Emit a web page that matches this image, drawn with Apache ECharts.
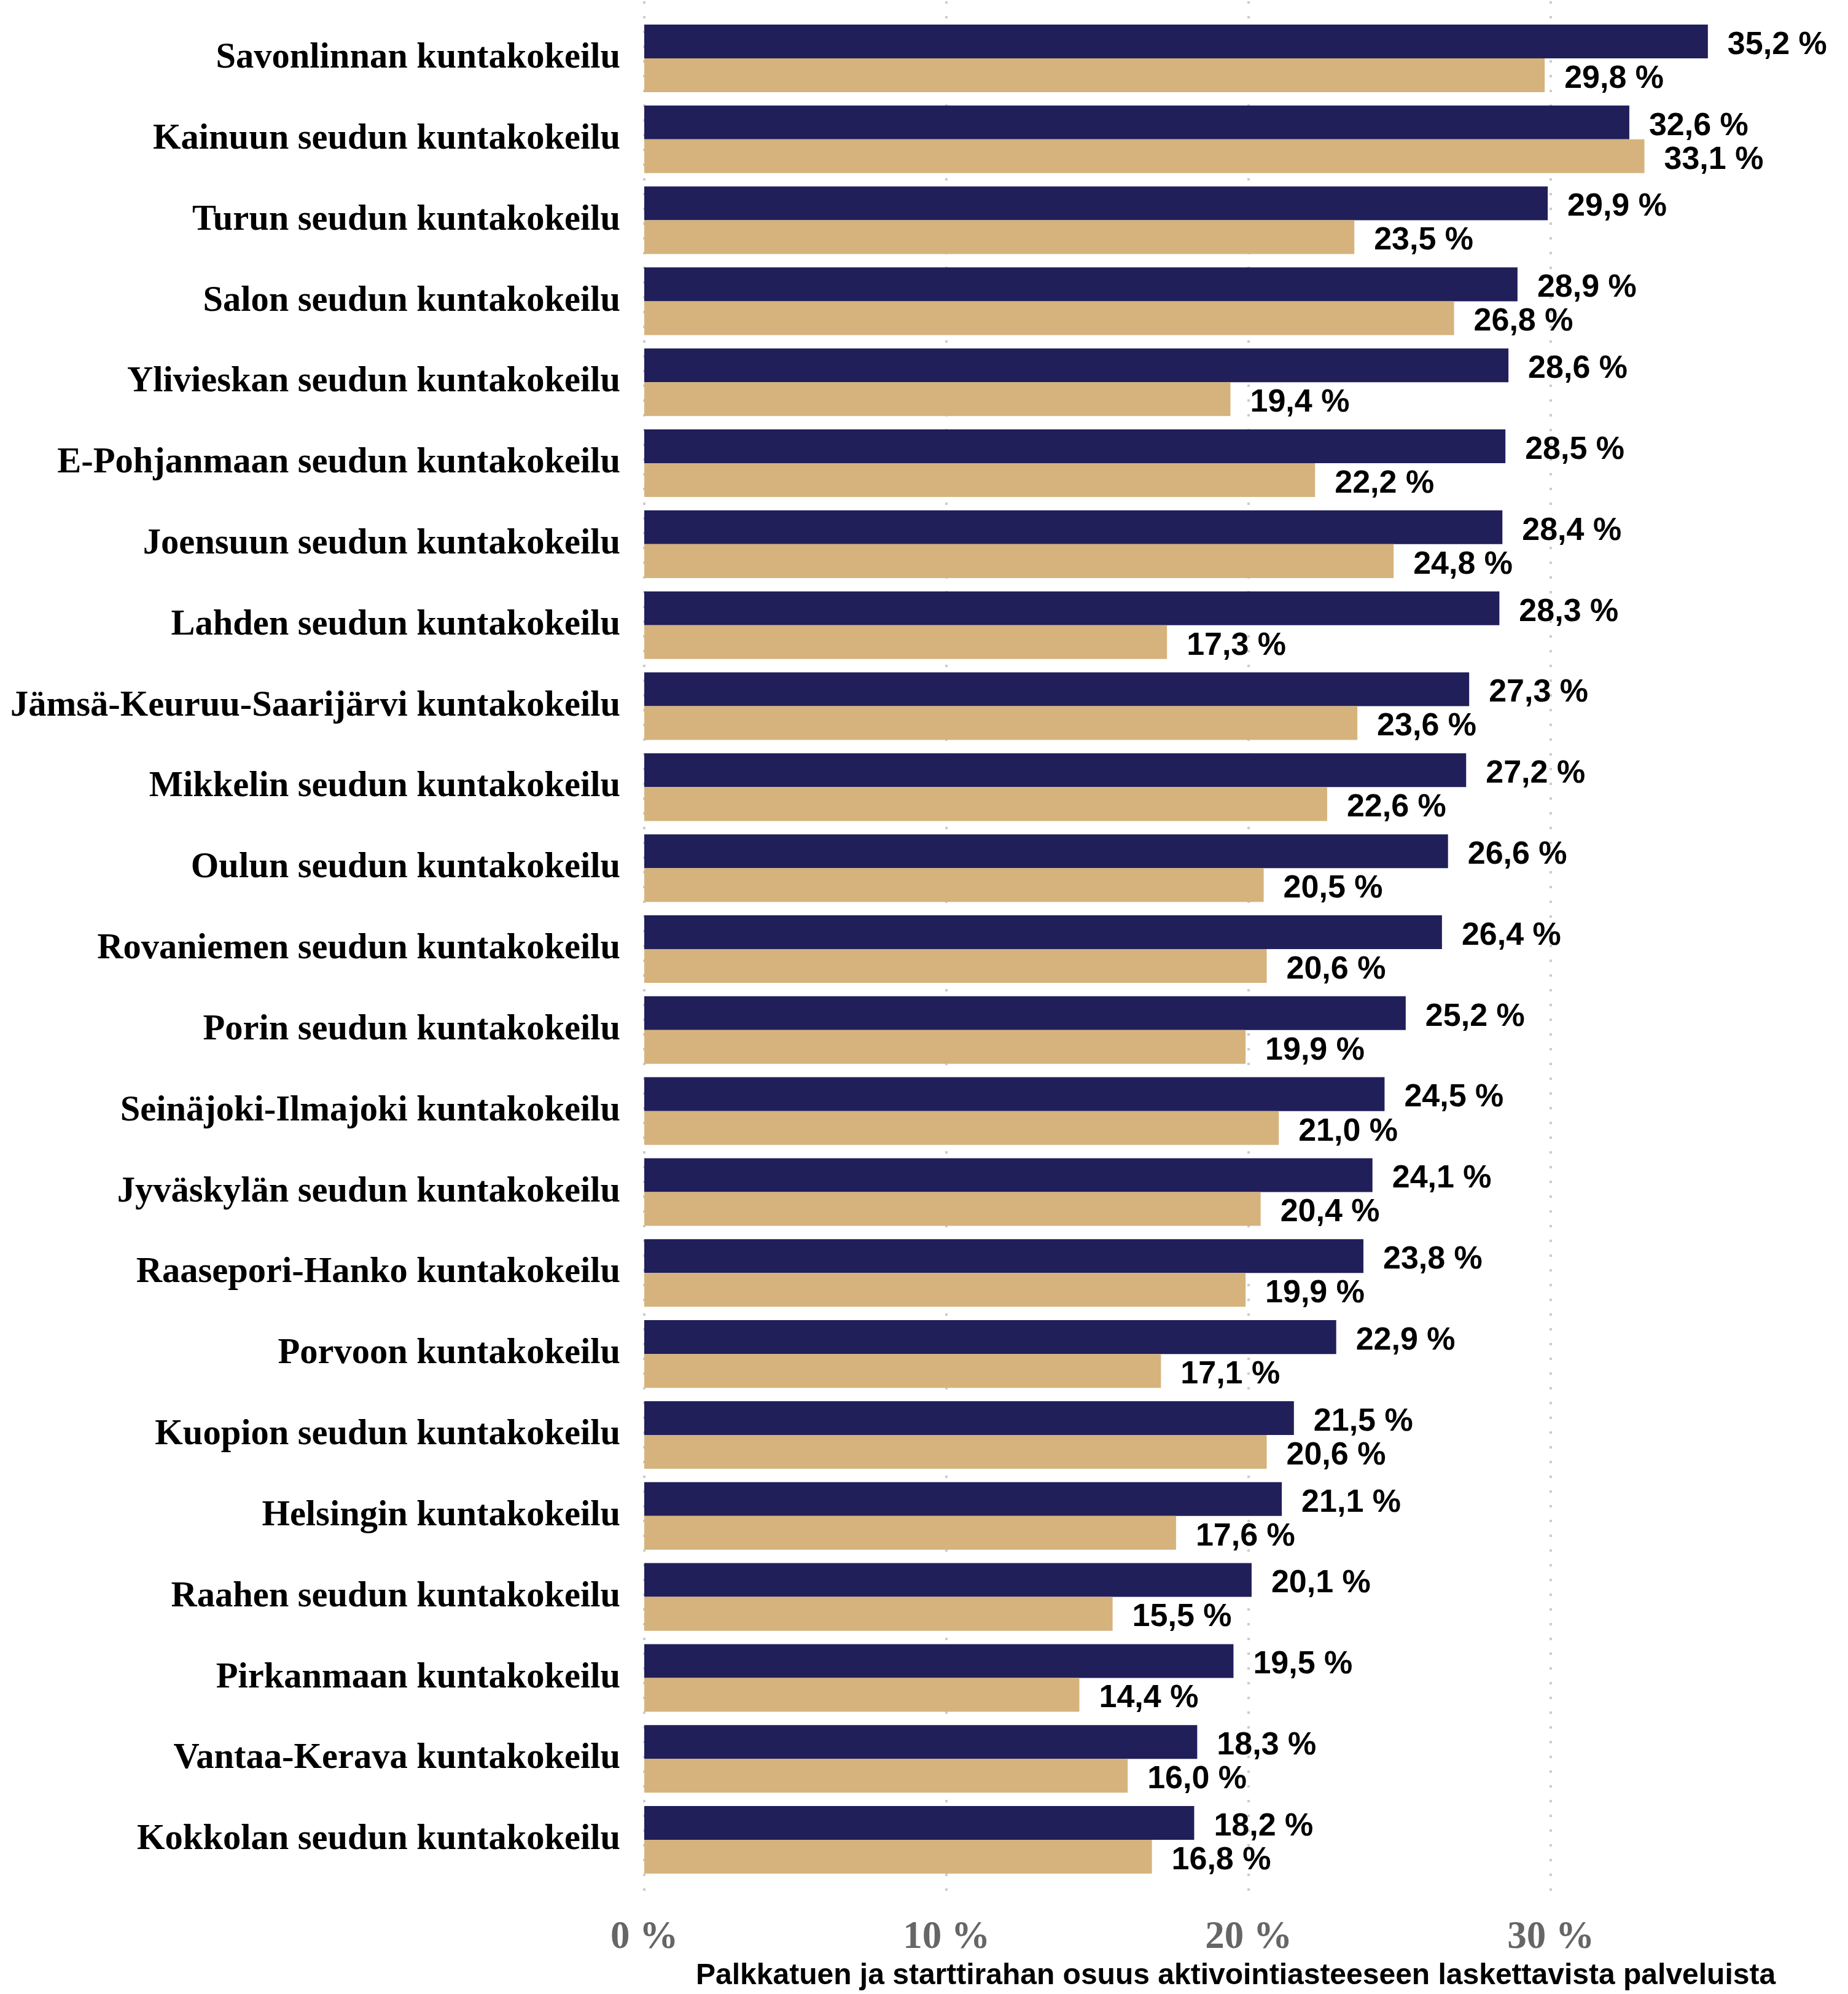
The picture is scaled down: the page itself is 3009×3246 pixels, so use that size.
<!DOCTYPE html>
<html>
<head>
<meta charset="utf-8">
<script src="https://cdn.jsdelivr.net/npm/echarts@6/dist/echarts.min.js"></script>
<style>
  html, body { margin: 0; padding: 0; background: #fff; }
  #myChart { width: 3009px; height: 3246px; }
</style>
</head>
<body>
<div id="myChart"></div>
<script>
const categories = [
  'Savonlinnan kuntakokeilu',
  'Kainuun seudun kuntakokeilu',
  'Turun seudun kuntakokeilu',
  'Salon seudun kuntakokeilu',
  'Ylivieskan seudun kuntakokeilu',
  'E-Pohjanmaan seudun kuntakokeilu',
  'Joensuun seudun kuntakokeilu',
  'Lahden seudun kuntakokeilu',
  'Jämsä-Keuruu-Saarijärvi kuntakokeilu',
  'Mikkelin seudun kuntakokeilu',
  'Oulun seudun kuntakokeilu',
  'Rovaniemen seudun kuntakokeilu',
  'Porin seudun kuntakokeilu',
  'Seinäjoki-Ilmajoki kuntakokeilu',
  'Jyväskylän seudun kuntakokeilu',
  'Raasepori-Hanko kuntakokeilu',
  'Porvoon kuntakokeilu',
  'Kuopion seudun kuntakokeilu',
  'Helsingin kuntakokeilu',
  'Raahen seudun kuntakokeilu',
  'Pirkanmaan kuntakokeilu',
  'Vantaa-Kerava kuntakokeilu',
  'Kokkolan seudun kuntakokeilu'
]

// dark (upper) bar in each group
const darkValues = [35.2, 32.6, 29.9, 28.9, 28.6, 28.5, 28.4, 28.3, 27.3, 27.2, 26.6, 26.4,
  25.2, 24.5, 24.1, 23.8, 22.9, 21.5, 21.1, 20.1, 19.5, 18.3, 18.2]
// tan (lower) bar in each group
const tanValues = [29.8, 33.1, 23.5, 26.8, 19.4, 22.2, 24.8, 17.3, 23.6, 22.6, 20.5, 20.6,
  19.9, 21.0, 20.4, 19.9, 17.1, 20.6, 17.6, 15.5, 14.4, 16.0, 16.8]

const xTicks = [0, 10, 20, 30]
const xTitle = 'Palkkatuen ja starttirahan osuus aktivointiasteeseen laskettavista palveluista'

const DARK = '#201f5a'
const TAN = '#d6b37c'
const X_MAX = 39.15

const serif = '"Liberation Serif", "Times New Roman", serif'
const sans = '"Liberation Sans", Arial, sans-serif'

function fmtPct(v) {
  return v.toFixed(1).replace('.', ',') + ' %'
}

const chart = echarts.init(document.getElementById('myChart'), null, { renderer: 'canvas' })

const valueLabel = {
  show: true,
  position: 'right',
  distance: 32,
  offset: [0, 6],
  color: '#000',
  fontFamily: sans,
  fontWeight: 'bold',
  fontSize: 52,
  formatter: (p) => fmtPct(p.value)
}

const option = {
  animation: false,
  backgroundColor: '#fff',
  grid: [
    { left: 1049, right: 3009 - 1049 - X_MAX * 49.2, top: 29, bottom: 185 },
    { left: 1049, right: 3009 - 1049 - X_MAX * 49.2, top: 2, bottom: 146 }
  ],
  xAxis: [
    {
      gridIndex: 0,
      type: 'value',
      min: 0,
      max: X_MAX,
      show: false
    },
    {
      gridIndex: 1,
      type: 'value',
      min: 0,
      max: X_MAX,
      interval: 10,
      axisLine: { show: false },
      axisTick: { show: false },
      splitLine: {
        show: true,
        showMaxLine: false,
        lineStyle: { color: '#cccccc', width: 4, type: [4, 20] }
      },
      axisLabel: {
        margin: 34,
        color: '#666666',
        fontFamily: serif,
        fontWeight: 'bold',
        fontSize: 63,
        showMaxLabel: false,
        formatter: (v) => (xTicks.indexOf(v) >= 0 ? v + ' %' : '')
      },
      name: xTitle,
      nameLocation: 'middle',
      nameGap: 104,
      nameTextStyle: {
        color: '#000',
        fontFamily: sans,
        fontWeight: 'bold',
        fontSize: 48
      }
    }
  ],
  yAxis: [
    {
      gridIndex: 0,
      type: 'category',
      data: categories,
      inverse: true,
      axisLine: { show: false },
      axisTick: { show: false },
      splitLine: { show: false },
      axisLabel: {
        margin: 39,
        color: '#000',
        fontFamily: serif,
        fontWeight: 'bold',
        fontSize: 58.5,
        padding: [10, 0, 0, 0]
      }
    },
    {
      gridIndex: 1,
      type: 'value',
      min: 0,
      max: 1,
      show: false
    }
  ],
  series: [
    {
      name: 'dark',
      type: 'bar',
      xAxisIndex: 0,
      yAxisIndex: 0,
      data: darkValues,
      barGap: '0%',
      barCategoryGap: '16.5%',
      itemStyle: { color: DARK },
      label: valueLabel,
      z: 3
    },
    {
      name: 'tan',
      type: 'bar',
      xAxisIndex: 0,
      yAxisIndex: 0,
      data: tanValues,
      barGap: '0%',
      barCategoryGap: '16.5%',
      itemStyle: { color: TAN },
      label: valueLabel,
      z: 3
    }
  ]
}

chart.setOption(option)
</script>
</body>
</html>
